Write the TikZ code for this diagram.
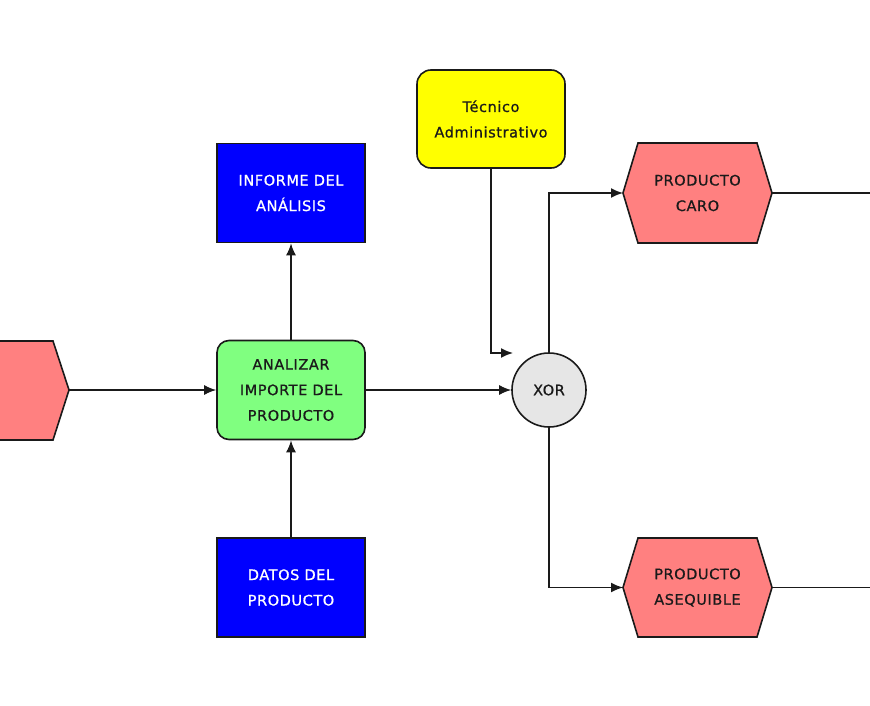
\documentclass[tikz,border=0pt]{standalone}
\usepackage{fontspec}
\setmainfont[LetterSpace=4,FakeBold=0.8]{DejaVu Sans}
\usetikzlibrary{arrows.meta}
\definecolor{evred}{HTML}{FF8080}
\definecolor{fngreen}{HTML}{80FF80}
\definecolor{dblue}{HTML}{0000FF}
\definecolor{ryellow}{HTML}{FFFF00}
\definecolor{xgray}{HTML}{E6E6E6}
\definecolor{ink}{HTML}{1A1A1A}
\begin{document}
\begin{tikzpicture}[x=1pt,y=-1pt,
  every node/.style={font=\fontsize{14.5}{25.5}\selectfont, align=center, text=ink},
  boxbase/.style={draw=ink, line width=1.6pt, minimum width=148pt, minimum height=99pt, inner sep=0pt},
  func/.style={boxbase, fill=fngreen, rounded corners=12pt},
  info/.style={boxbase, fill=dblue, text=white},
  role/.style={boxbase, fill=ryellow, rounded corners=14pt, minimum height=98pt},
  gate/.style={circle, draw=ink, line width=1.6pt, fill=xgray, minimum size=74pt, inner sep=0pt},
  hexfill/.style={draw=ink, line width=1.6pt, fill=evred, line join=miter},
  arr/.style={draw=ink, line width=1.6pt, -{Latex[length=12pt,width=10pt]}},
  ln/.style={draw=ink, line width=1.6pt}]
\useasboundingbox (0,0) rectangle (870,706);
\fill[white] (0,0) rectangle (870,706);

% left event (partially off page)
\draw[hexfill] (-5,341) -- (53,341) -- (69,390) -- (53,440) -- (-5,440) -- cycle;
\coordinate (lhtip) at (69,390);

% function
\node[func] (green) at (291,390) {ANALIZAR\\IMPORTE DEL\\PRODUCTO};
\node[info] (informe) at (291,193) {INFORME DEL\\ANÁLISIS};
\node[info] (datos) at (291,587.5) {DATOS DEL\\PRODUCTO};
\node[role] (yellow) at (491,119) {Técnico\\Administrativo};
\node[gate] (xor) at (549,390) {XOR};
\coordinate (xorin) at (513,353);

% right events
\draw[hexfill] (623,193) -- (638,143) -- (757,143) -- (772,193) -- (757,243) -- (638,243) -- cycle;
\node (caro) at (697.5,193) {PRODUCTO\\CARO};
\coordinate (carow) at (623,193);
\coordinate (caroe) at (772,193);
\coordinate (caroout) at (875,193);

\draw[hexfill] (623,587.5) -- (638,538) -- (757,538) -- (772,587.5) -- (757,637) -- (638,637) -- cycle;
\node (aseq) at (697.5,587.5) {PRODUCTO\\ASEQUIBLE};
\coordinate (aseqw) at (623,587.5);
\coordinate (aseqe) at (772,587.5);
\coordinate (aseqout) at (875,587.5);

% connectors
\draw[arr] (lhtip) -- (green.west);
\draw[arr] (green.east) -- (xor.west);
\draw[arr] (green.north) -- (informe.south);
\draw[arr] (datos.north) -- (green.south);
\draw[arr] (yellow.south) |- (xorin);
\draw[arr] (xor.north) |- (carow);
\draw[arr] (xor.south) |- (aseqw);
\draw[ln] (caroe) -- (caroout);
\draw[ln] (aseqe) -- (aseqout);
\end{tikzpicture}
\end{document}
